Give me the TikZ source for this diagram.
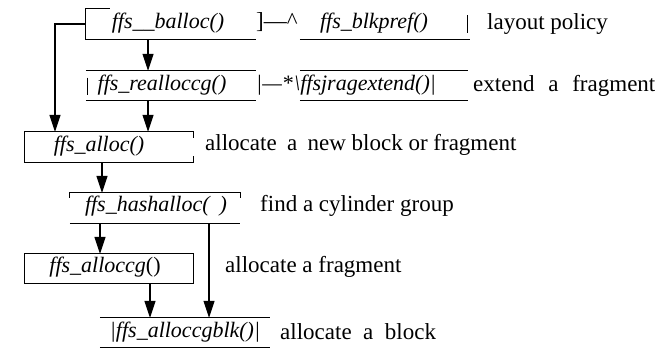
\documentclass[tikz,border=0pt]{standalone}
\usepackage{fontspec}
\setmainfont{Liberation Serif}
\usetikzlibrary{arrows.meta}
\tikzset{
  ln/.style={line width=1.1pt},
  arr/.style={line width=1.1pt,-{Triangle[length=17pt,width=11pt]}},
  frame/.style={draw=none,inner sep=0pt},
  fn/.style={font=\fontsize{22}{26}\selectfont\itshape,inner sep=0pt},
  lbl/.style={font=\fontsize{23}{27}\selectfont,inner sep=0pt,anchor=west},
}
\begin{document}
\begin{tikzpicture}[x=1pt,y=-1pt]
\useasboundingbox (0,0) rectangle (668,348);
% frames
\node[frame,minimum width=170pt,minimum height=30pt] (balloc) at (171,24) {};
\node[frame,minimum width=170pt,minimum height=30pt] (blkpref) at (385,24) {};
\node[frame,minimum width=170pt,minimum height=29pt] (realloc) at (171,85.5) {};
\node[frame,minimum width=168pt,minimum height=29pt] (fragext) at (384,85.5) {};
\node[frame,minimum width=168pt,minimum height=30pt] (alloc) at (109,147) {};
\node[frame,minimum width=170pt,minimum height=30pt] (hashalloc) at (155,208) {};
\node[frame,minimum width=168pt,minimum height=29pt] (alloccg) at (109,268.5) {};
\node[frame,minimum width=170pt,minimum height=29pt] (alloccgblk) at (185,332.5) {};
% frame lines
\draw[ln] ([xshift=24pt]balloc.north west) -- (balloc.north west) -- (balloc.south west) -- (balloc.south east);
\draw[ln] (blkpref.south west) -- (blkpref.south east);
\draw[ln] ([xshift=-3pt,yshift=9pt]blkpref.east) -- ([xshift=-3pt,yshift=-9pt]blkpref.east);
\draw[ln] (realloc.north west) -- (realloc.north east);
\draw[ln] (realloc.south west) -- (realloc.south east);
\draw[ln] ([xshift=2pt,yshift=8pt]realloc.west) -- ([xshift=2pt,yshift=-9pt]realloc.west);
\draw[ln] (fragext.north west) -- (fragext.north east);
\draw[ln] (fragext.south west) -- (fragext.south east);
\draw[ln] ([yshift=-6pt]alloc.north east) -- (alloc.north east) -- (alloc.north west) -- (alloc.south west) -- (alloc.south east) -- ([yshift=6pt]alloc.south east);
\draw[ln] ([yshift=-5pt]hashalloc.north west) -- (hashalloc.north west) -- (hashalloc.north east) -- ([yshift=-5pt]hashalloc.north east);
\draw[ln] (hashalloc.south west) -- (hashalloc.south east);
\draw[ln] (alloccg.north west) rectangle (alloccg.south east);
\draw[ln] (alloccgblk.north west) -- (alloccgblk.north east);
\draw[ln] (alloccgblk.south west) -- (alloccgblk.south east);
% texts
\node[fn] (ballocT) at (168,23) {ffs\_\_balloc()};
\node[lbl] (j1) at (256,22) {]—\textasciicircum};
\node[fn] (blkprefT) at (374,23) {ffs\_blkpref()};
\node[lbl] (lay) at (487,24) {layout policy};
\node[fn] (reallocT) at (162,85) {ffs\_realloccg()};
\node[fn,anchor=west] (j2) at (256,85) {|—*};
\node[fn,anchor=west] (fragT) at (294,85) {\textbackslash ffsjragextend()|};
\node[lbl] (ext) at (473,86) {extend\hspace{0.6em}a\hspace{0.6em}fragment};
\node[fn] (allocT) at (99,146) {ffs\_alloc()};
\node[lbl] (allocL) at (205,145) {allocate\hspace{0.45em}a\hspace{0.45em}new block or fragment};
\node[fn] (hashT) at (156,206) {ffs\_hashalloc(\hspace{10pt})};
\node[lbl] (hashL) at (260,206) {find a cylinder group};
\node[fn] (alloccgT) at (105,267) {ffs\_alloccg\upshape()};
\node[lbl] (alloccgL) at (225,267) {allocate a fragment};
\node[fn] (blkT) at (185,332) {|ffs\_alloccgblk()|};
\node[lbl] (blkL) at (280,332) {allocate\hspace{0.5em}a\hspace{0.5em}block};
% connectors
\coordinate (lft) at (55,24);
\draw[arr] (balloc.west) -- (lft) -- (lft |- alloc.north);
\draw[arr] ([xshift=-23pt]balloc.south) -- ([xshift=-23pt]realloc.north);
\draw[arr] ([xshift=-23pt]realloc.south) -- ([xshift=-23pt]realloc.south |- alloc.north);
\draw[arr] ([xshift=-7pt]alloc.south) -- ([xshift=-7pt]alloc.south |- hashalloc.north);
\draw[arr] ([xshift=-55pt]hashalloc.south) -- ([xshift=-55pt]hashalloc.south |- alloccg.north);
\draw[arr] ([xshift=54pt]hashalloc.south) -- ([xshift=54pt]hashalloc.south |- alloccgblk.north);
\draw[arr] ([xshift=41pt]alloccg.south) -- ([xshift=41pt]alloccg.south |- alloccgblk.north);
\end{tikzpicture}
\end{document}
